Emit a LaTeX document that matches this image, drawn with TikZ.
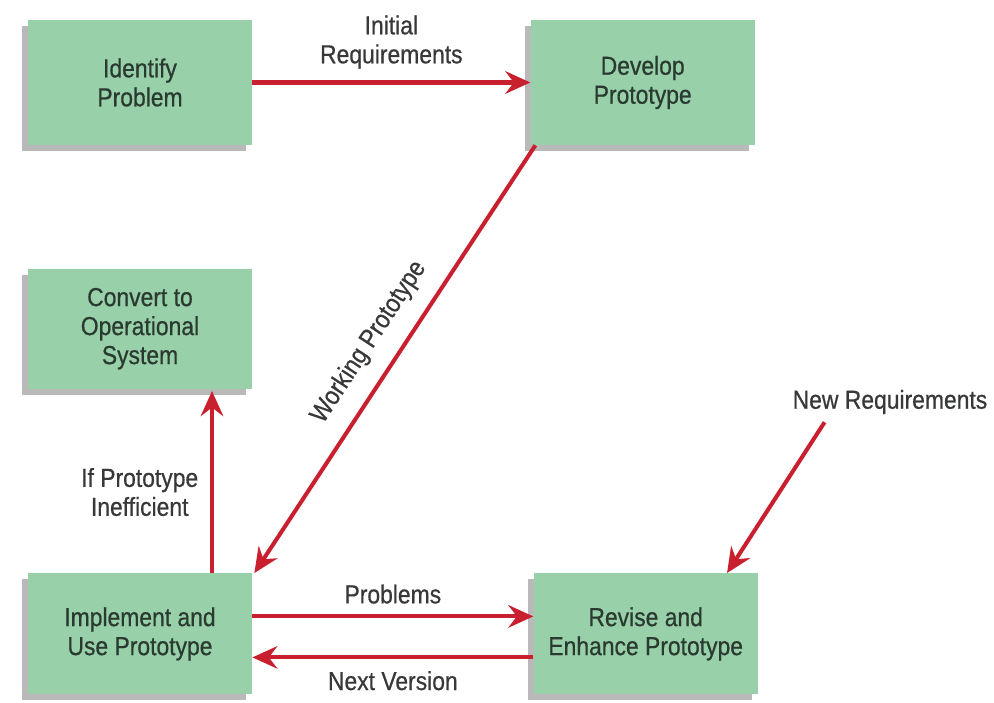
\documentclass[tikz,border=0pt]{standalone}
\usepackage{fontspec}
\setmainfont{Liberation Sans}[FakeStretch=0.88, FakeBold=0.6]
\usetikzlibrary{positioning,shadows,arrows.meta}
\definecolor{boxgreen}{RGB}{152,208,170}
\definecolor{flowred}{RGB}{200,32,46}
\definecolor{boxtext}{RGB}{42,58,48}
\definecolor{notetext}{RGB}{55,57,56}

\begin{document}
\begin{tikzpicture}[auto,
  stage/.style={fill=boxgreen, minimum width=4.48cm, minimum height=2.5cm,
    align=center, text=boxtext, font=\fontsize{14.8}{16.5}\selectfont,
    drop shadow={shadow xshift=-0.12cm, shadow yshift=-0.12cm, fill=black!55}},
  flow/.style={draw=flowred, line width=2.3pt,
    -{Stealth[length=0.5cm, width=0.45cm, inset=0.17cm]}},
  note/.style={align=center, inner sep=1pt, text=notetext,
    font=\fontsize{14.8}{16.5}\selectfont}]
            \useasboundingbox (0,0) rectangle (19.88,14.06);

            \node[stage] (Ident) at (2.8,12.41) {Identify\\Problem};
            \node[stage, right=5.56cm of Ident] (Develop) {Develop\\Prototype};
            \node[stage, below=2.46cm of Ident, minimum height=2.4cm] (Convert)
              {Convert to\\Operational\\System};
            \node[stage, below=3.68cm of Convert, minimum height=2.42cm] (Implement)
              {Implement and\\Use Prototype};
            \node[stage, right=5.62cm of Implement, minimum height=2.42cm] (Revise)
              {Revise and\\Enhance Prototype};

            \node[note] (NewReq) at (17.8,6.02) {New Requirements};

            \draw[flow] (Ident) -- node[note, above=0.2cm] {Initial\\Requirements} (Develop);
            \draw[flow] ([xshift=0.1cm]Develop.south west)
              -- node[note, sloped, above=0.3cm] {Working Prototype}
              ([xshift=0.04cm]Implement.north east);
            \draw[flow] ([xshift=1.44cm]Implement.north)
              -- node[note, left=0.2cm, yshift=-0.2cm] {If Prototype\\Inefficient}
              ([xshift=1.44cm, yshift=-0.04cm]Convert.south);

            \draw[flow] ([yshift=0.35cm]Implement.east)
              -- node[note, above=0.18cm] {Problems} ([yshift=0.35cm]Revise.west);
            \draw[flow] ([yshift=-0.47cm]Revise.west)
              -- node[note, below=0.2cm] {Next Version} ([yshift=-0.47cm]Implement.east);

            \draw[flow] ([xshift=0.68cm, yshift=-0.12cm]NewReq.south west)
              -- ([xshift=-0.62cm]Revise.north east);
            \end{tikzpicture}
\end{document}
